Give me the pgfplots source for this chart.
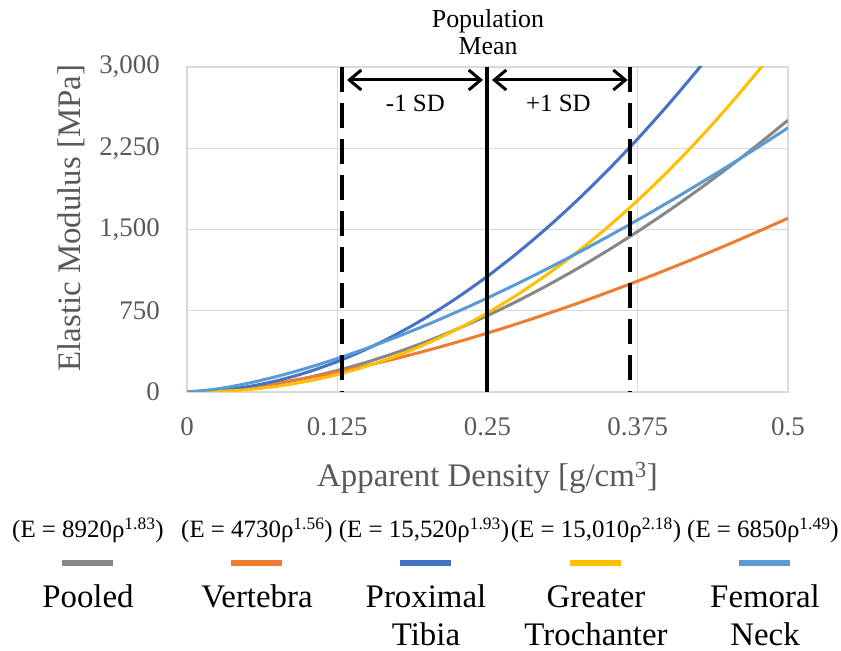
\documentclass[border=0pt]{standalone}
\usepackage{fontspec}
\setmainfont{Liberation Serif}
\usepackage{pgfplots}
\pgfplotsset{compat=1.18}
\usetikzlibrary{arrows.meta}
\definecolor{cPooled}{HTML}{878787}
\definecolor{cVert}{HTML}{ED7D31}
\definecolor{cTibia}{HTML}{4472C4}
\definecolor{cTroch}{HTML}{FFC000}
\definecolor{cNeck}{HTML}{5B9BD5}
\definecolor{gridc}{HTML}{D9D9D9}
\definecolor{labc}{HTML}{595959}
\newcommand{\fs}[1]{\fontsize{#1}{#1}\selectfont}
\begin{document}
\begin{tikzpicture}
\path[use as bounding box] (0,0) rectangle (841bp,651bp);
\begin{axis}[
  at={(187bp,259bp)}, anchor=south west,
  width=601bp, height=325bp, scale only axis,
  xmin=0, xmax=0.5, ymin=0, ymax=3000,
  xtick={0,0.125,0.25,0.375,0.5}, xticklabels={0,0.125,0.25,0.375,0.5},
  ytick={0,750,1500,2250,3000}, yticklabels={0,750,{1,500},{2,250},{3,000}},
  grid=major, major grid style={draw=gridc, line width=1.2bp},
  axis line style={draw=gridc, line width=1.2bp},
  major tick length=0pt,
  tick label style={font=\fs{27}, text=labc, inner sep=0pt},
  xticklabel style={yshift=-25bp},
  yticklabel style={xshift=-27bp},
  xlabel={Apparent Density [g/cm\textsuperscript{3}]},
  ylabel={Elastic Modulus [MPa]},
  label style={font=\fs{33}, text=labc},
  xlabel style={at={(axis description cs:0.5,-0.265)}, anchor=center},
  ylabel style={at={(axis description cs:-0.193,0.535)}, anchor=center},
]
% Pooled E = 8920 rho^1.83
\addplot[cPooled, line width=3bp, smooth] coordinates {
(0,0) (0.025,10.44) (0.05,37.11) (0.075,77.93) (0.1,131.93) (0.125,198.47)
(0.15,277.08) (0.175,367.39) (0.2,469.08) (0.225,581.91) (0.25,705.66)
(0.275,840.14) (0.3,985.13) (0.325,1140.54) (0.35,1306.21) (0.375,1481.97)
(0.4,1667.77) (0.425,1863.42) (0.45,2068.92) (0.475,2284.09) (0.5,2508.86)};
% Vertebra E = 4730 rho^1.56
\addplot[cVert, line width=3bp, smooth] coordinates {
(0,0) (0.025,14.99) (0.05,44.18) (0.075,83.17) (0.1,130.27) (0.125,184.52)
(0.15,245.22) (0.175,311.89) (0.2,384.11) (0.225,461.61) (0.25,544.06)
(0.275,631.28) (0.3,723.06) (0.325,819.22) (0.35,919.62) (0.375,1024.12)
(0.4,1132.60) (0.425,1244.93) (0.45,1361.03) (0.475,1480.82) (0.5,1604.18)};
% Proximal Tibia E = 15520 rho^1.93
\addplot[cTibia, line width=3bp, smooth] coordinates {
(0,0) (0.025,12.56) (0.05,47.85) (0.075,104.65) (0.1,182.34) (0.125,280.50)
(0.15,398.80) (0.175,536.98) (0.2,694.83) (0.225,872.19) (0.25,1068.86)
(0.275,1284.73) (0.3,1519.64) (0.325,1773.50) (0.35,2046.20) (0.375,2337.62)
(0.4,2647.71) (0.425,2976.34) (0.45,3323.49)};
% Greater Trochanter E = 15010 rho^2.18
\addplot[cTroch, line width=3bp, smooth] coordinates {
(0,0) (0.025,4.83) (0.05,21.89) (0.075,52.97) (0.1,99.17) (0.125,161.30)
(0.15,240.03) (0.175,335.90) (0.2,449.40) (0.225,580.96) (0.25,730.97)
(0.275,899.77) (0.3,1087.71) (0.325,1295.06) (0.35,1522.14) (0.375,1769.17)
(0.4,2036.47) (0.425,2324.17) (0.45,2632.60) (0.475,2961.94) (0.5,3312.34)};
% Femoral Neck E = 6850 rho^1.49
\addplot[cNeck, line width=3bp, smooth] coordinates {
(0,0) (0.025,28.10) (0.05,78.91) (0.075,144.39) (0.1,221.67) (0.125,309.09)
(0.15,405.57) (0.175,510.29) (0.2,622.62) (0.225,742.08) (0.25,868.22)
(0.275,1000.69) (0.3,1139.20) (0.325,1283.51) (0.35,1433.36) (0.375,1588.54)
(0.4,1748.89) (0.425,1914.20) (0.45,2084.39) (0.475,2259.25) (0.5,2438.70)};
% mean and +-1 SD
\addplot[black, line width=4bp, dash pattern=on 25bp off 11bp] coordinates {(0.129,3000) (0.129,0)};
\addplot[black, line width=4bp, dash pattern=on 25bp off 11bp] coordinates {(0.3686,3000) (0.3686,0)};
\addplot[black, line width=3.5bp] coordinates {(0.2496,3000) (0.2496,0)};
\addplot[black, line width=3bp, arrows={Straight Barb[length=12bp,width=20bp]-Straight Barb[length=12bp,width=20bp]}] coordinates {(0.1331,2880) (0.2463,2880)};
\addplot[black, line width=3bp, arrows={Straight Barb[length=12bp,width=20bp]-Straight Barb[length=12bp,width=20bp]}] coordinates {(0.2537,2880) (0.3666,2880)};
\node[font=\fs{25}] at (axis cs:0.19,2668) {-1 SD};
\node[font=\fs{25}] at (axis cs:0.309,2668) {+1 SD};
\end{axis}
% Population mean label
\node[anchor=base, font=\fs{26}] at (488bp,623bp) {Population};
\node[anchor=base, font=\fs{26}] at (488bp,596bp) {Mean};
% legend
\node[anchor=base, font=\fs{25}] at (88bp,113bp) {(E = 8920ρ\textsuperscript{1.83})};
\node[anchor=base, font=\fs{25}] at (257bp,113bp) {(E = 4730ρ\textsuperscript{1.56})};
\node[anchor=base, font=\fs{25}] at (424bp,113bp) {(E = 15,520ρ\textsuperscript{1.93})};
\node[anchor=base, font=\fs{25}] at (596bp,113bp) {(E = 15,010ρ\textsuperscript{2.18})};
\node[anchor=base, font=\fs{25}] at (763bp,113bp) {(E = 6850ρ\textsuperscript{1.49})};
\draw[cPooled, line width=6.5bp] (62bp,88bp) -- (113bp,88bp);
\draw[cVert, line width=6.5bp] (231bp,88bp) -- (282bp,88bp);
\draw[cTibia, line width=6.5bp] (400bp,88bp) -- (451bp,88bp);
\draw[cTroch, line width=6.5bp] (570bp,88bp) -- (621bp,88bp);
\draw[cNeck, line width=6.5bp] (739bp,88bp) -- (790bp,88bp);
\node[anchor=base, font=\fs{33}] at (88bp,43bp) {Pooled};
\node[anchor=base, font=\fs{33}] at (257bp,43bp) {Vertebra};
\node[anchor=base, font=\fs{33}] at (426bp,43bp) {Proximal};
\node[anchor=base, font=\fs{33}] at (426bp,6bp) {Tibia};
\node[anchor=base, font=\fs{33}] at (596bp,43bp) {Greater};
\node[anchor=base, font=\fs{33}] at (596bp,6bp) {Trochanter};
\node[anchor=base, font=\fs{33}] at (765bp,43bp) {Femoral};
\node[anchor=base, font=\fs{33}] at (765bp,6bp) {Neck};
\end{tikzpicture}
\end{document}
